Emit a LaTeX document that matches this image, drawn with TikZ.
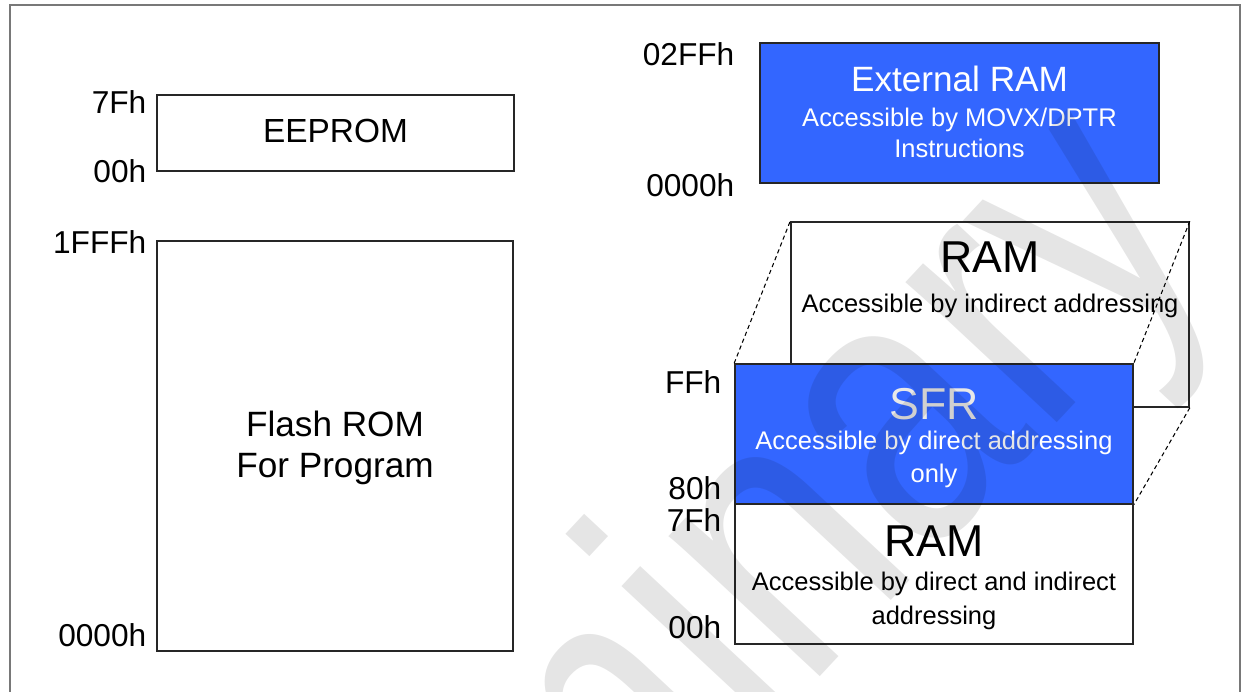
\documentclass[tikz,border=0pt]{standalone}
\usepackage{fontspec}
\setmainfont{Liberation Sans}
\usepackage{xcolor}
\definecolor{blu}{RGB}{51, 102, 255}
\definecolor{frm}{RGB}{120, 120, 120}
\definecolor{sfrt}{RGB}{232, 232, 232}

\tikzset{
  membox/.style={draw=black!85, line width=0.4pt, inner sep=0pt},
  addr/.style={anchor=base east, inner sep=0pt, font=\fontsize{9}{11}\selectfont},
  bigtxt/.style={anchor=base, inner sep=0pt, font=\fontsize{12.7}{14}\selectfont},
  midtxt/.style={anchor=base, inner sep=0pt, font=\fontsize{10}{12}\selectfont},
  smalltxt/.style={anchor=base, inner sep=0pt, font=\fontsize{7.25}{9}\selectfont},
  proj/.style={black, line width=0.3pt, dash pattern=on 1.2pt off 0.9pt},
}

\begin{document}
\begin{tikzpicture}[x=0.01cm, y=-0.01cm]
  \useasboundingbox (0,0) rectangle (1248,692);
  % frame
  \draw[frm, line width=0.5pt] (10,692) -- (10,5) -- (1240,5) -- (1240,692);

  % program side
  \node[membox, minimum width=3.57cm, minimum height=0.76cm] (eeprom) at (335.5,133) {};
  \node[midtxt, font=\fontsize{9.5}{11}\selectfont] (eepromT) at (335.5,143) {EEPROM};
  \node[addr] (eeHi) at (147,114) {7Fh};
  \node[addr] (eeLo) at (147,183) {00h};

  \node[membox, minimum width=3.56cm, minimum height=4.10cm] (flash) at (335,446) {};
  \node[midtxt] (flashT1) at (335,437) {Flash ROM};
  \node[midtxt] (flashT2) at (335,478) {For Program};
  \node[addr] (flHi) at (147,254) {1FFFh};
  \node[addr] (flLo) at (147,647) {0000h};

  % data side
  \node[membox, fill=blu, minimum width=3.99cm, minimum height=1.40cm] (xram) at (959.5,113) {};
  \node[midtxt, text=white] (xramT1) at (959.5,92) {External RAM};
  \node[smalltxt, text=white] (xramT2) at (959.5,127) {Accessible by MOVX/DPTR};
  \node[smalltxt, text=white] (xramT3) at (959.5,158) {Instructions};
  \node[addr] (xrHi) at (735,66) {02FFh};
  \node[addr] (xrLo) at (735,197) {0000h};

  \node[membox, minimum width=3.98cm, minimum height=1.85cm] (ramhi) at (990,314.5) {};
  \node[bigtxt] (ramhiT1) at (990,273) {RAM};
  \node[smalltxt] (ramhiT2) at (990,313) {Accessible by indirect addressing};

  \node[membox, fill=blu, minimum width=3.98cm, minimum height=1.40cm] (sfr) at (934,434) {};
  \draw[proj] (sfr.north west) -- (ramhi.north west);
  \draw[proj] (ramhi.north east) -- (sfr.north east);
  \draw[proj] (ramhi.south east) -- (sfr.south east);
  \node[bigtxt, text=sfrt] (sfrT1) at (934,420) {SFR};
  \node[smalltxt, text=white] (sfrT2) at (934,450) {Accessible by direct addressing};
  \node[smalltxt, text=white] (sfrT3) at (934,483) {only};

  \node[membox, minimum width=3.98cm, minimum height=1.40cm] (ramlo) at (934,574) {};
  \node[bigtxt] (ramloT1) at (934,557) {RAM};
  \node[smalltxt] (ramloT2) at (934,591) {Accessible by direct and indirect};
  \node[smalltxt] (ramloT3) at (934,625) {addressing};

  \node[addr] (sfHi) at (722,394) {FFh};
  \node[addr] (sfLo) at (722,500) {80h};
  \node[addr] (rlHi) at (722,532) {7Fh};
  \node[addr] (rlLo) at (722,639) {00h};

  % watermark
  \begin{scope}
    \clip (0,0) rectangle (1248,692);
    \node[rotate=47, xscale=0.8, anchor=base east, inner sep=0pt, opacity=0.1,
      font=\fontsize{111}{114}\selectfont] (mark) at (1220.7,247.3) {Preliminary};
  \end{scope}
\end{tikzpicture}
\end{document}
